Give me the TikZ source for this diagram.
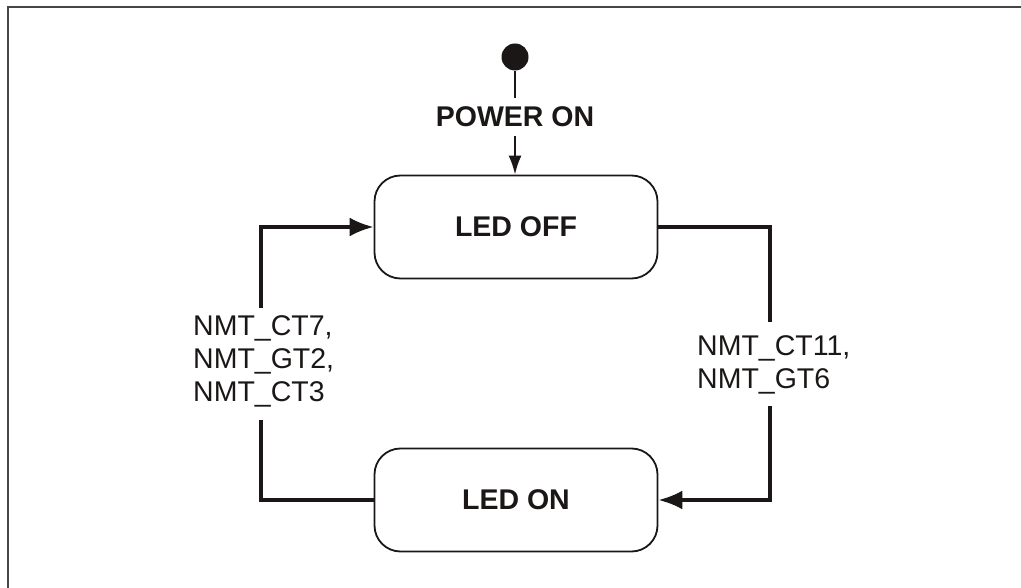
\documentclass[tikz,border=0pt]{standalone}
\usepackage{fontspec}
\setmainfont{Liberation Sans}
\usetikzlibrary{arrows.meta}
\definecolor{ink}{HTML}{1A1716}
\begin{document}
\begin{tikzpicture}[x=1pt,y=-1pt,
  statebox/.style={draw=ink,line width=1.8pt,rounded corners=26pt,minimum width=283pt,minimum height=103pt,inner sep=0pt,font=\fontsize{28.5}{33}\selectfont\bfseries,text=ink},
  conn/.style={draw=ink,line width=3.5pt,-{Latex[length=24pt,width=19pt]}},
  plain/.style={draw=ink,line width=3.5pt},
  lab/.style={align=left,font=\fontsize{28.5}{33}\selectfont,text=ink,inner sep=0pt}]
\useasboundingbox (0,0) rectangle (1021,588);
\draw[line width=2pt,color=ink!80] (8,588) -- (8,7) -- (1021,7);
\node[circle,fill=ink,minimum size=27pt,inner sep=0pt] (dot) at (515,57) {};
\node[font=\fontsize{28.5}{33}\selectfont\bfseries,text=ink,text height=20pt,text depth=0pt,inner xsep=0pt,inner ysep=9pt] (power) at (515,117) {POWER ON};
\node[statebox] (ledoff) at (516,227) {LED OFF};
\node[statebox] (ledon) at (516,500) {LED ON};
\node[lab,anchor=west] (ll) at (193,361) {NMT\_CT7,\\NMT\_GT2,\\NMT\_CT3};
\node[lab,anchor=west] (rl) at (697,365) {NMT\_CT11,\\NMT\_GT6};
\coordinate (l1) at (261,420);
\coordinate (l2) at (261,308);
\coordinate (r1) at (770,322);
\coordinate (r2) at (770,406);
\draw[draw=ink,line width=2pt] (dot.south) -- (power.north);
\draw[draw=ink,line width=2pt,-{Latex[length=19pt,width=13pt]}] (power.south) -- (power.south |- ledoff.north);
\draw[plain] (ledon.west) -| (l1);
\draw[conn] (l2) |- (ledoff.west);
\draw[plain] (ledoff.east) -| (r1);
\draw[conn] (r2) |- (ledon.east);
\end{tikzpicture}
\end{document}
